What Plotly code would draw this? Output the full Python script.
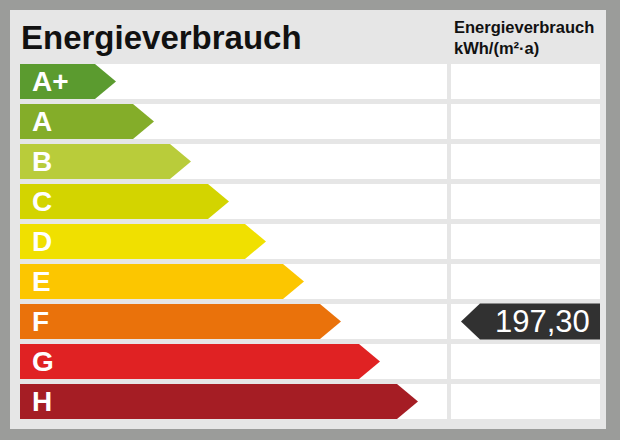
import plotly.graph_objects as go

# ---- data ----
classes = ["A+", "A", "B", "C", "D", "E", "F", "G", "H"]
bar_lengths = [75, 113, 150, 188, 225, 263, 300, 339, 377]
bar_colors = ["#5b9b2f", "#84ad29", "#b9cc3a", "#d3d400", "#f0e000",
              "#fcc600", "#ea720b", "#e02223", "#a51d24"]
value = 197.30
value_class = "F"
title_text = "Energieverbrauch"
header_lines = ["Energieverbrauch", "kWh/(m²·a)"]

# ---- geometry / style ----
W, H = 620, 440
X0 = 20            # start of rows
ROW_H = 0.875      # row height in row units (35px of 40px pitch)
TIP = 21           # arrow tip length
LEFT_END = 447
RIGHT_START = 451
RIGHT_END = 600
FONT = "Liberation Sans, Arial, sans-serif"
BG = "#9b9c9a"

rows = list(range(len(classes)))
fig = go.Figure()

# white row backgrounds
fig.add_trace(go.Bar(y=rows, x=[LEFT_END - X0] * len(rows), base=X0, orientation="h",
                     width=ROW_H, marker=dict(color="white", line_width=0),
                     hoverinfo="skip", showlegend=False))
fig.add_trace(go.Bar(y=rows, x=[RIGHT_END - RIGHT_START] * len(rows), base=RIGHT_START,
                     orientation="h", width=ROW_H, marker=dict(color="white", line_width=0),
                     hoverinfo="skip", showlegend=False))

# class arrows
h = ROW_H / 2
for i, (c, L, col) in enumerate(zip(classes, bar_lengths, bar_colors)):
    end = X0 + L
    xs = [X0, end, end + TIP, end, X0, X0]
    ys = [i - h, i - h, i, i + h, i + h, i - h]
    fig.add_trace(go.Scatter(x=xs, y=ys, mode="lines", fill="toself", fillcolor=col,
                             line=dict(width=0, color=col), hoverinfo="skip",
                             showlegend=False))
    fig.add_annotation(x=X0 + 10, y=i, text=c, showarrow=False, xanchor="left",
                       yanchor="middle",
                       font=dict(family=FONT, size=28, color="white", weight="bold"))

# value marker
vi = classes.index(value_class)
mh = 0.45
m_tip = 461
m_body = 480
xs = [m_tip, m_body, RIGHT_END, RIGHT_END, m_body, m_tip]
ys = [vi, vi - mh, vi - mh, vi + mh, vi + mh, vi]
fig.add_trace(go.Scatter(x=xs, y=ys, mode="lines", fill="toself", fillcolor="#313131",
                         line=dict(width=0, color="#313131"), hoverinfo="skip",
                         showlegend=False))
fig.add_annotation(x=RIGHT_END - 8, y=vi, text=f"{value:.2f}".replace(".", ","),
                   showarrow=False, xanchor="right", yanchor="middle",
                   font=dict(family=FONT, size=31, color="white"))

# titles
fig.add_annotation(x=X0 - 1, y=-1.1, text=title_text, showarrow=False, xanchor="left",
                   yanchor="middle",
                   font=dict(family=FONT, size=33, color="#111111", weight="bold"))
fig.add_annotation(x=RIGHT_START + 1, y=-1.1, text="<br>".join(header_lines),
                   showarrow=False, xanchor="left", yanchor="middle", align="left",
                   font=dict(family=FONT, size=16.5, color="#111111", weight="bold"))

fig.update_layout(
    width=W, height=H,
    margin=dict(l=0, r=0, t=0, b=0),
    paper_bgcolor=BG,
    plot_bgcolor="rgba(0,0,0,0)",
    barmode="overlay",
    showlegend=False,
    xaxis=dict(range=[0, W], visible=False, fixedrange=True),
    yaxis=dict(range=[(H - 81.5) / 40, -81.5 / 40], visible=False, fixedrange=True),
    shapes=[dict(type="rect", xref="x", yref="paper", x0=10, x1=606,
                 y0=1 - 429 / H, y1=1 - 10 / H, fillcolor="#e6e6e6",
                 line_width=0, layer="below")],
)

fig.write_html("out.html", config={"displayModeBar": False},
               post_script="document.body.style.margin='0';"
                           "document.body.style.background='" + BG + "';")
